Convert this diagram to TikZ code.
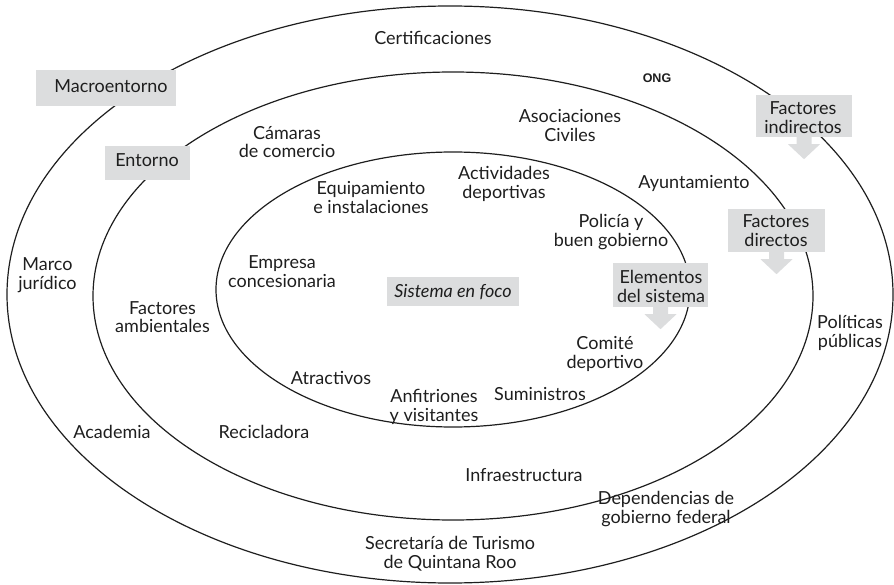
\documentclass[tikz,border=0pt]{standalone}
\usepackage{fontspec}
\setmainfont{Lato}
\newfontfamily\ongfont{Liberation Sans}
\usetikzlibrary{calc}
\definecolor{boxgray}{RGB}{220,221,222}
\definecolor{ink}{RGB}{30,30,30}
\tikzset{
  ring/.style={draw=ink, line width=1.2pt},
  gbox/.style={fill=boxgray, draw=none},
  lbl/.style={anchor=base, inner sep=0pt, align=center, text=ink,
    font=\fontsize{18}{18.5}\selectfont},
  garrow/.style={fill=boxgray, draw=none}
}
\newcommand{\downarrowshape}[1]{%
  \fill[garrow] ($(#1.south)+(-7.5pt,0)$) -- ($(#1.south)+(7.5pt,0)$)
    -- ($(#1.south)+(7.5pt,-7pt)$) -- ($(#1.south)+(16pt,-7pt)$)
    -- ($(#1.south)+(0,-22pt)$) -- ($(#1.south)+(-16pt,-7pt)$)
    -- ($(#1.south)+(-7.5pt,-7pt)$) -- cycle;}
\begin{document}
\begin{tikzpicture}[x=1pt,y=-1pt]
\useasboundingbox (0,0) rectangle (894,585);
% rings
\draw[ring] (450,294.5) ellipse [x radius=443pt, y radius=288.5pt];
\draw[ring] (453,296) ellipse [x radius=360pt, y radius=224pt];
\draw[ring] (453,289.5) ellipse [x radius=237pt, y radius=137.5pt];
% gray boxes
\node[gbox, minimum width=140pt, minimum height=36pt] (bmacro) at (106,88) {};
\node[gbox, minimum width=85pt, minimum height=34pt] (bentorno) at (147.5,163) {};
\node[gbox, minimum width=96pt, minimum height=42pt] (bindir) at (804,116) {};
\node[gbox, minimum width=97pt, minimum height=43pt] (bdir) at (776.5,230.5) {};
\node[gbox, minimum width=95pt, minimum height=44pt] (belem) at (660.5,285) {};
\node[gbox, minimum width=132pt, minimum height=29pt] (bfoco) at (453,291.5) {};
\downarrowshape{bindir}
\downarrowshape{bdir}
\downarrowshape{belem}
% box labels (multi-line: anchor base = last line baseline)
\node[lbl] (macro) at (111,93) {Macroentorno};
\node[lbl] (entorno) at (147,167) {Entorno};
\node[lbl] (indir) at (803,133.5) {Factores\\indirectos};
\node[lbl] (dir) at (776,246.5) {Factores\\directos};
\node[lbl] (elem) at (661,302) {Elementos\\del sistema};
\node[lbl, font=\fontsize{18}{18.5}\selectfont\itshape] (foco) at (453,298) {Sistema en foco};
% macroentorno elements
\node[lbl] (cert) at (433,45) {Certificaciones};
\node[anchor=base, inner sep=0pt, text=ink, font=\ongfont\bfseries\fontsize{12.5}{14}\selectfont] (ong) at (657,83) {ONG};
\node[lbl] (marco) at (47.5,289.5) {Marco\\jurídico};
\node[lbl] (acad) at (112,438) {Academia};
\node[lbl] (secr) at (450,568) {Secretaría de Turismo\\de Quintana Roo};
\node[lbl] (polit) at (850,347) {Políticas\\públicas};
\node[lbl] (depen) at (666,523) {Dependencias de\\gobierno federal};
% entorno elements
\node[lbl] (camaras) at (287,158) {Cámaras\\de comercio};
\node[lbl] (asoc) at (570,141.5) {Asociaciones\\Civiles};
\node[lbl] (ayunt) at (694,189) {Ayuntamiento};
\node[lbl] (ambient) at (162.5,332.5) {Factores\\ambientales};
\node[lbl] (recic) at (264,438) {Recicladora};
\node[lbl] (infra) at (524,481) {Infraestructura};
% sistema elements
\node[lbl] (equip) at (371,213.5) {Equipamiento\\e instalaciones};
\node[lbl] (activ) at (504,198.5) {Actividades\\deportivas};
\node[lbl] (policia) at (611,246.5) {Policía y\\buen gobierno};
\node[lbl] (empresa) at (282,287.5) {Empresa\\concesionaria};
\node[lbl] (comite) at (605,368) {Comité\\deportivo};
\node[lbl] (atract) at (331,384) {Atractivos};
\node[lbl] (anfit) at (434,421) {Anfitriones\\y visitantes};
\node[lbl] (sumin) at (540,400) {Suministros};
\end{tikzpicture}
\end{document}
